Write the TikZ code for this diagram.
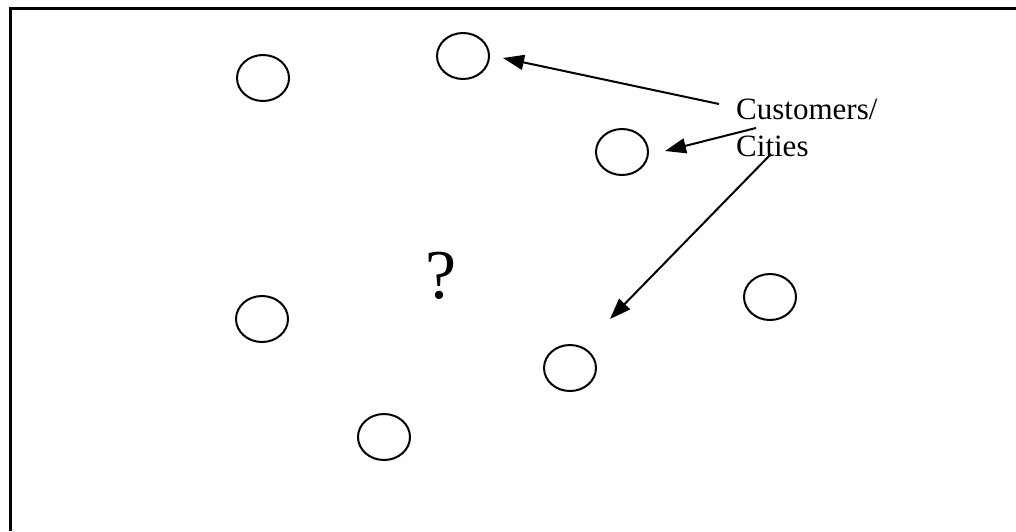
\documentclass[tikz,border=0pt]{standalone}
\usepackage{fontspec}
\setmainfont{Liberation Serif}
\usetikzlibrary{shapes.geometric,arrows.meta}
\begin{document}
\begin{tikzpicture}[x=1pt,y=-1pt,
  city/.style={draw,ellipse,line width=2pt,minimum width=52pt,minimum height=46pt,inner sep=0pt},
  pointer/.style={line width=2pt,-{Triangle[length=21pt,width=15pt]}},
  label/.style={font=\fontsize{31}{37}\selectfont,align=left,inner sep=0pt}]
\useasboundingbox (0,0) rectangle (1016,531);
% frame (only the top and left edges are visible)
\draw[line width=3pt] (10,531) -- (10,8) -- (1016,8);
% customer locations
\node[city] (c1) at (263,78) {};
\node[city] (c2) at (463,56) {};
\node[city] (c3) at (622,152) {};
\node[city] (c4) at (770,297) {};
\node[city] (c5) at (262,319) {};
\node[city] (c6) at (570,368) {};
\node[city] (c7) at (384,437) {};
% unknown depot
\node[font=\fontsize{70}{70}\selectfont,inner sep=0pt,anchor=base] (q) at (441,298) {?};
% label and pointers
\node[label,anchor=base west] (lbl) at (736,119) {Customers/};
\node[label,anchor=base west] (lbl2) at (736,156) {Cities};
\coordinate (s1) at (719,104);
\coordinate (s2) at (756,128);
\coordinate (s3) at (771,154);
\coordinate (t1) at (503,58);
\coordinate (t2) at (665,151);
\coordinate (t3) at (610,319);
\draw[pointer] (s1) -- (t1);
\draw[pointer] (s2) -- (t2);
\draw[pointer] (s3) -- (t3);
\end{tikzpicture}
\end{document}
